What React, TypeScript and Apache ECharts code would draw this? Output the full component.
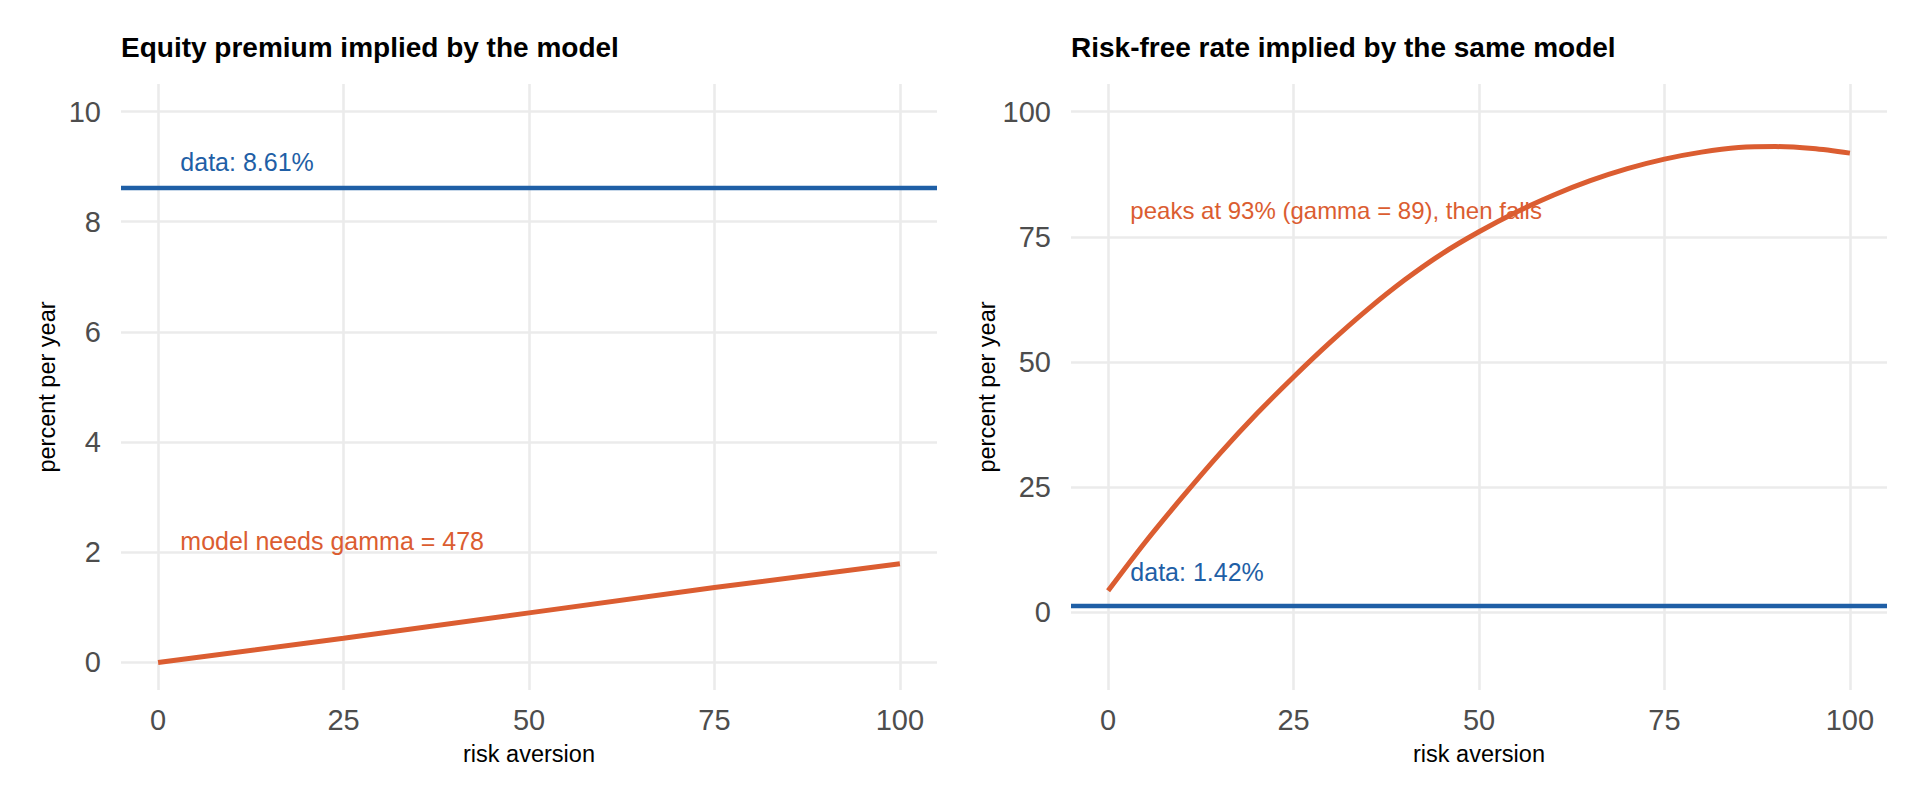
import React, { useEffect, useRef } from "react";
import * as echarts from "echarts";

// ---- data ----
const GAMMA_EP = [0, 25, 50, 75, 100];
const EP_MODEL = [0, 0.44, 0.9, 1.36, 1.79];
const EP_DATA = 8.61;

const GAMMA_RF = [0, 5, 10, 15, 20, 25, 30, 35, 40, 45, 50, 55, 60, 65, 70, 75, 80, 85, 90, 95, 100];
const RF_MODEL = [4.3, 14.0, 23.0, 31.6, 39.6, 47.0, 54.0, 60.5, 66.4, 71.6, 76.0, 79.9, 83.3, 86.2, 88.6, 90.5, 91.9, 92.8, 93.0, 92.6, 91.7];
const RF_DATA = 1.42;

const X_TICKS = [0, 25, 50, 75, 100];
const EP_TICKS = [0, 2, 4, 6, 8, 10];
const RF_TICKS = [0, 25, 50, 75, 100];

const TITLES = ["Equity premium implied by the model", "Risk-free rate implied by the same model"];
const ANNOTATIONS = [
  { panel: 0, x: 3, y: 9.08, text: "data: 8.61%", kind: "data", size: 25 },
  { panel: 0, x: 3, y: 2.21, text: "model needs gamma = 478", kind: "model", size: 25 },
  { panel: 1, x: 3, y: 80.2, text: "peaks at 93% (gamma = 89), then falls", kind: "model", size: 24 },
  { panel: 1, x: 3, y: 8.1, text: "data: 1.42%", kind: "data", size: 25 },
];

const BLUE = "#1f5fa6";
const ORANGE = "#db5d31";
const GRID = "#ebebeb";
const FONT = "'Liberation Sans', Arial, Helvetica, sans-serif";

export default function App() {
  const ref = useRef<HTMLDivElement>(null);
  useEffect(() => {
    document.body.style.margin = "0";
    const chart = echarts.init(ref.current!, undefined, { renderer: "svg" });
    const grids = [
      { left: 121, top: 84, width: 816, height: 606 },
      { left: 1071, top: 84, width: 816, height: 606 },
    ];
    const xAxis = [0, 1].map((i) => ({
      type: "value",
      gridIndex: i,
      min: -5,
      max: 105,
      name: "risk aversion",
      nameLocation: "middle",
      nameGap: 52,
      nameTextStyle: { color: "#000", fontSize: 23.5, fontFamily: FONT },
      axisLine: { show: false },
      axisTick: { show: false, customValues: X_TICKS },
      axisLabel: { customValues: X_TICKS, color: "#4d4d4d", fontSize: 29, fontFamily: FONT, margin: 15 },
      splitLine: { show: true, lineStyle: { color: GRID, width: 2.6 } },
    }));
    const yTicks = [EP_TICKS, RF_TICKS];
    const yRange = [
      [-0.5, 10.5],
      [-15.5, 105.5],
    ];
    const yAxis = [0, 1].map((i) => ({
      type: "value",
      gridIndex: i,
      min: yRange[i][0],
      max: yRange[i][1],
      name: "percent per year",
      nameLocation: "middle",
      nameGap: 62,
      nameTextStyle: { color: "#000", fontSize: 23.5, fontFamily: FONT },
      axisLine: { show: false },
      axisTick: { show: false, customValues: yTicks[i] },
      axisLabel: { customValues: yTicks[i], color: "#4d4d4d", fontSize: 29, fontFamily: FONT, margin: 20 },
      splitLine: { show: true, lineStyle: { color: GRID, width: 2.6 } },
    }));

    const hline = (i: number, v: number) => ({
      type: "line",
      xAxisIndex: i,
      yAxisIndex: i,
      data: [],
      silent: true,
      markLine: {
        silent: true,
        symbol: "none",
        label: { show: false },
        lineStyle: { color: BLUE, width: 4.3, type: "solid", opacity: 1 },
        data: [{ yAxis: v }],
      },
    });

    const series: any[] = [
      hline(0, EP_DATA),
      {
        type: "line",
        xAxisIndex: 0,
        yAxisIndex: 0,
        data: GAMMA_EP.map((g, k) => [g, EP_MODEL[k]]),
        showSymbol: false,
        lineStyle: { color: ORANGE, width: 5 },
        silent: true,
      },
      hline(1, RF_DATA),
      {
        type: "line",
        xAxisIndex: 1,
        yAxisIndex: 1,
        data: GAMMA_RF.map((g, k) => [g, RF_MODEL[k]]),
        showSymbol: false,
        smooth: 0.3,
        lineStyle: { color: ORANGE, width: 5 },
        silent: true,
      },
      ...ANNOTATIONS.map((a) => ({
        type: "scatter",
        xAxisIndex: a.panel,
        yAxisIndex: a.panel,
        data: [[a.x, a.y]],
        symbolSize: 0,
        silent: true,
        itemStyle: { opacity: 1 },
        label: {
          show: true,
          formatter: a.text,
          position: "right",
          distance: 0,
          color: a.kind === "data" ? BLUE : ORANGE,
          fontSize: a.size,
          fontFamily: FONT,
        },
      })),
    ];

    chart.setOption({
      animation: false,
      backgroundColor: "#ffffff",
      title: TITLES.map((t, i) => ({
        text: t,
        left: grids[i].left,
        top: 33,
        padding: 0,
        textStyle: { fontSize: 28, fontWeight: "bold", color: "#000", fontFamily: FONT },
      })),
      grid: grids,
      xAxis,
      yAxis,
      series,
    });
    return () => chart.dispose();
  }, []);
  return <div ref={ref} style={{ width: 1920, height: 806 }} />;
}
